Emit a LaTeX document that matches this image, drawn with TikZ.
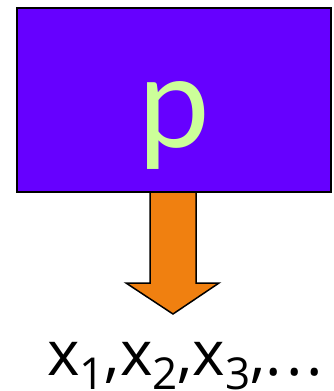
\documentclass[tikz,border=0pt]{standalone}
\usepackage{fontspec}
\setmainfont{Open Sans}
\newfontfamily\pfont{Lato}
\definecolor{boxpurple}{RGB}{102,0,255}
\definecolor{pgreen}{RGB}{204,255,153}
\definecolor{arroworange}{RGB}{240,128,16}
\newcommand{\subsc}[1]{\raisebox{-14pt}{\fontsize{44}{44}\selectfont #1}}
\begin{document}
\begin{tikzpicture}[x=1pt,y=-1pt,
  outline/.style={draw=black, line width=1.5pt, line join=miter}]
\useasboundingbox (0,0) rectangle (333,391);
\coordinate (a1) at (150,191);
\coordinate (a2) at (150,283);
\coordinate (a3) at (126,283);
\coordinate (tip) at (173,314);
\coordinate (a5) at (219,283);
\coordinate (a6) at (196,283);
\coordinate (a7) at (196,191);
\draw[outline, fill=arroworange] (a1) -- (a2) -- (a3) -- (tip) -- (a5) -- (a6) -- (a7) -- cycle;
\node[outline, fill=boxpurple, minimum width=314pt, minimum height=184pt, inner sep=0pt, anchor=north west] (box) at (16,7) {};
\node[text=pgreen, font=\pfont\fontsize{128}{128}\selectfont, anchor=base, inner sep=0pt] (p) at (174,147) {p};
\node[font=\fontsize{62}{62}\selectfont, anchor=base west, inner sep=0pt] (seq) at (47,375) {x\subsc{1},x\subsc{2},x\subsc{3},.\kern4pt.\kern4pt.};
\end{tikzpicture}
\end{document}
